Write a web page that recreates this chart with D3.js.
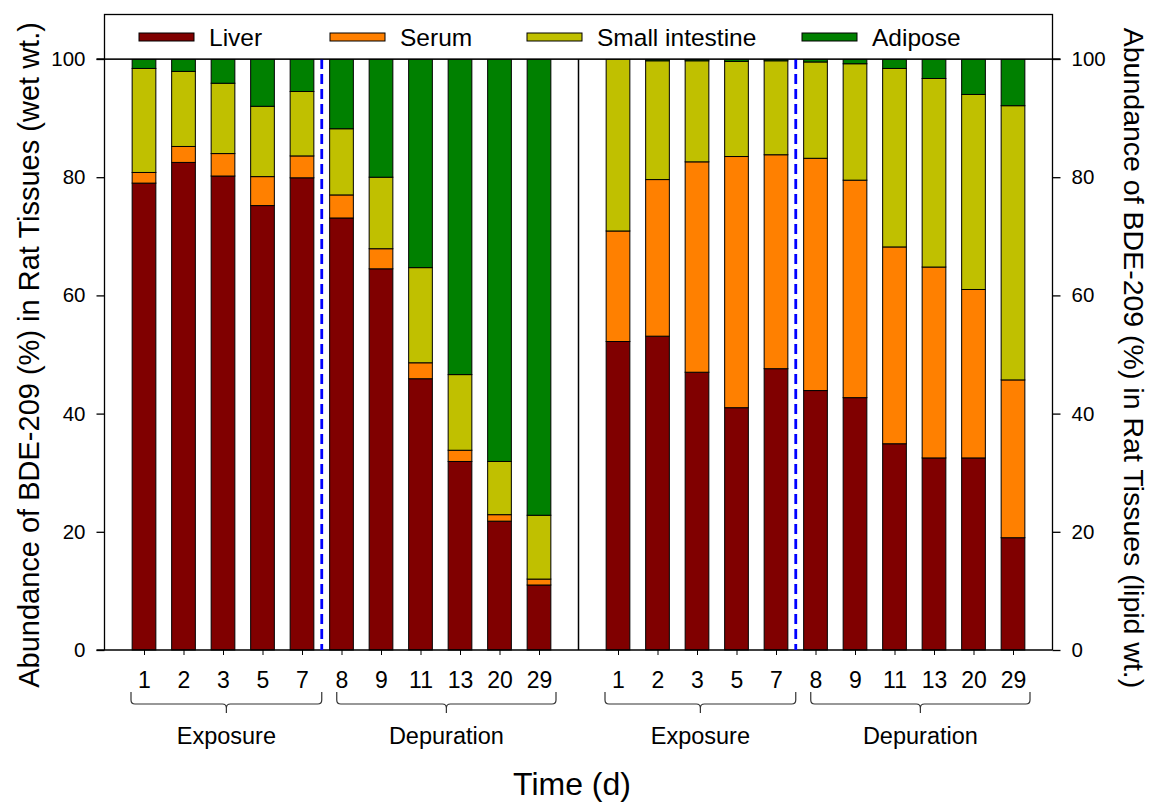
<!DOCTYPE html>
<html>
<head>
<meta charset="utf-8">
<script src="https://cdn.jsdelivr.net/npm/d3@7"></script>
<style>
  html, body { margin: 0; padding: 0; background: #fff; }
  svg { display: block; font-family: Arial, "Liberation Sans", sans-serif; }
</style>
</head>
<body>
<svg id="chart" width="1150" height="803"></svg>
<script>
// ---------- data ----------
const days = ["1", "2", "3", "5", "7", "8", "9", "11", "13", "20", "29"];
const tissues = ["Liver", "Serum", "Small intestine", "Adipose"];
const tissueColors = ["#800000", "#FF8000", "#C0C000", "#008000"];
const yTicks = [0, 20, 40, 60, 80, 100];

// wet weight (left panel)
const wetLiver   = [79.0, 82.5, 80.2, 75.2, 79.9, 73.1, 64.5, 45.9, 31.9, 21.8, 11.0];
const wetSerum   = [1.8, 2.7, 3.8, 4.9, 3.7, 3.9, 3.4, 2.7, 1.9, 1.1, 1.0];
const wetSI      = [17.6, 12.7, 11.9, 11.9, 10.9, 11.2, 12.1, 16.1, 12.8, 9.0, 10.8];
const wetAdipose = [1.6, 2.1, 4.1, 8.0, 5.5, 11.8, 20.0, 35.3, 53.4, 68.1, 77.2];

// lipid weight (right panel)
const lipidLiver   = [52.2, 53.1, 47.0, 41.0, 47.6, 43.9, 42.7, 34.9, 32.5, 32.5, 19.0];
const lipidSerum   = [18.7, 26.5, 35.6, 42.5, 36.2, 39.3, 36.8, 33.3, 32.3, 28.5, 26.7];
const lipidSI      = [29.1, 20.1, 17.1, 16.1, 15.9, 16.3, 19.7, 30.2, 31.9, 33.0, 46.4];
const lipidAdipose = [0.0, 0.3, 0.3, 0.4, 0.3, 0.5, 0.8, 1.6, 3.3, 6.0, 7.9];

const exposureDays = ["1", "2", "3", "5", "7"];
const depurationDays = ["8", "9", "11", "13", "20", "29"];
const phaseLabels = ["Exposure", "Depuration"];
const leftTitle = "Abundance of BDE-209 (%) in Rat Tissues (wet wt.)";
const rightTitle = "Abundance of BDE-209 (%) in Rat Tissues (lipid wt.)";
const xTitle = "Time (d)";

// ---------- build rows ----------
function rows(panel, l, s, si, a) {
  return days.map((d, i) => ({
    key: panel + "-" + d, day: d, panel,
    "Liver": l[i], "Serum": s[i], "Small intestine": si[i], "Adipose": a[i]
  }));
}
const wetRows = rows("L", wetLiver, wetSerum, wetSI, wetAdipose);
const lipidRows = rows("R", lipidLiver, lipidSerum, lipidSI, lipidAdipose);
const allRows = wetRows.concat(lipidRows);
const domainKeys = wetRows.map(r => r.key).concat(["gap"], lipidRows.map(r => r.key));

// ---------- scales ----------
const margin = { left: 104.5, right: 1052.5, top: 59, bottom: 650 };
const x = d3.scalePoint().domain(domainKeys).range([margin.left, margin.right]).padding(1);
const y = d3.scaleLinear().domain([0, 100]).range([margin.bottom, margin.top]);
const barW = x.step() * 0.6;
const color = d3.scaleOrdinal().domain(tissues).range(tissueColors);
const FONT = "Arial, 'Liberation Sans', sans-serif";

const svg = d3.select("#chart");

// ---------- bars ----------
const stack = d3.stack().keys(tissues);
const series = stack(allRows);
svg.append("g").selectAll("g")
  .data(series).join("g")
  .attr("fill", s => color(s.key))
  .selectAll("rect")
  .data(s => s.map(d => ({ s0: d[0], s1: d[1], key: d.data.key })))
  .join("rect")
  .attr("x", d => x(d.key) - barW / 2)
  .attr("width", barW)
  .attr("y", d => y(d.s1))
  .attr("height", d => y(d.s0) - y(d.s1))
  .attr("stroke", "#000")
  .attr("stroke-width", 1);

// ---------- axes ----------
const leftAxis = d3.axisLeft(y).tickValues(yTicks).tickSize(8).tickPadding(11).tickFormat(d3.format("d"));
const gL = svg.append("g").attr("transform", `translate(${margin.left},0)`).call(leftAxis);
const rightAxis = d3.axisRight(y).tickValues(yTicks).tickSize(8).tickPadding(11).tickFormat(d3.format("d"));
const gR = svg.append("g").attr("transform", `translate(${margin.right},0)`).call(rightAxis);
[gL, gR].forEach(g => {
  g.select(".domain").attr("stroke", "#000").attr("stroke-width", 1.3)
    .attr("d", `M0,${margin.top}V${margin.bottom}`);
  g.selectAll(".tick line").attr("stroke", "#000").attr("stroke-width", 1.3);
  g.selectAll(".tick text").attr("font-size", 20.5).attr("fill", "#000").attr("font-family", FONT);
});

const bottomAxis = d3.axisBottom(x).tickValues(domainKeys.filter(k => k !== "gap"))
  .tickSize(5).tickPadding(16.5).tickFormat(k => k.split("-")[1]);
const gB = svg.append("g").attr("transform", `translate(0,${margin.bottom})`).call(bottomAxis);
gB.select(".domain").attr("d", `M${margin.left - 8},0H${margin.right}`).attr("stroke", "#000").attr("stroke-width", 1.3);
gB.selectAll(".tick line").attr("stroke", "#000").attr("stroke-width", 1);
gB.selectAll(".tick text").attr("font-size", 23).attr("fill", "#000").attr("font-family", FONT);

// top line at 100
svg.append("line")
  .attr("x1", margin.left - 8).attr("x2", margin.right + 8)
  .attr("y1", y(100)).attr("y2", y(100))
  .attr("stroke", "#000").attr("stroke-width", 1.3);

// panel divider
svg.append("line")
  .attr("x1", x("gap")).attr("x2", x("gap"))
  .attr("y1", y(100)).attr("y2", y(0))
  .attr("stroke", "#000").attr("stroke-width", 1.5);

// dashed blue lines between day 7 and day 8
["L", "R"].forEach(p => {
  const xm = (x(p + "-7") + x(p + "-8")) / 2;
  svg.append("line")
    .attr("x1", xm).attr("x2", xm)
    .attr("y1", y(100)).attr("y2", y(0))
    .attr("stroke", "#0000FF").attr("stroke-width", 2.8)
    .attr("stroke-dasharray", "10,5");
});

// ---------- brackets ----------
function bracket(x0, x1, label) {
  const yt = 692, yh = 704, yb = 713, r = 4;
  const xc = (x0 + x1) / 2;
  const path = `M${x0},${yt}V${yh - r}Q${x0},${yh} ${x0 + r},${yh}H${xc - r}Q${xc},${yh} ${xc},${yh + r}V${yb}` +
    `M${xc},${yh + r}Q${xc},${yh} ${xc + r},${yh}H${x1 - r}Q${x1},${yh} ${x1},${yh - r}V${yt}`;
  svg.append("path").attr("d", path).attr("fill", "none").attr("stroke", "#333").attr("stroke-width", 1.2);
  svg.append("text").attr("x", xc).attr("y", 743.5).attr("text-anchor", "middle")
    .attr("font-size", 23.5).attr("fill", "#000").text(label);
}
["L", "R"].forEach(p => {
  const xm = (x(p + "-7") + x(p + "-8")) / 2;
  bracket(x(p + "-" + exposureDays[0]) - 13, xm, phaseLabels[0]);
  bracket(xm + 15, x(p + "-" + depurationDays[depurationDays.length - 1]) + 17, phaseLabels[1]);
});

// ---------- titles ----------
svg.append("text").attr("transform", `translate(39,355) rotate(-90)`)
  .attr("text-anchor", "middle").attr("font-size", 29).attr("fill", "#000").text(leftTitle);
svg.append("text").attr("transform", `translate(1124,358) rotate(90)`)
  .attr("text-anchor", "middle").attr("font-size", 28.5).attr("fill", "#000").text(rightTitle);
svg.append("text").attr("x", 572).attr("y", 795)
  .attr("text-anchor", "middle").attr("font-size", 32).attr("fill", "#000").text(xTitle);

// ---------- legend ----------
const lg = svg.append("g");
lg.append("rect").attr("x", margin.left).attr("y", 14.5)
  .attr("width", margin.right - margin.left).attr("height", y(100) - 14.5)
  .attr("fill", "#fff").attr("stroke", "#000").attr("stroke-width", 1.3);
const legendX = [139, 330, 527, 802];
tissues.forEach((t, i) => {
  lg.append("rect").attr("x", legendX[i]).attr("y", 33).attr("width", 55).attr("height", 8)
    .attr("fill", color(t)).attr("stroke", "#000").attr("stroke-width", 1);
  lg.append("text").attr("x", legendX[i] + 70).attr("y", 45.5)
    .attr("font-size", 24.5).attr("fill", "#000").text(t);
});
</script>
</body>
</html>
